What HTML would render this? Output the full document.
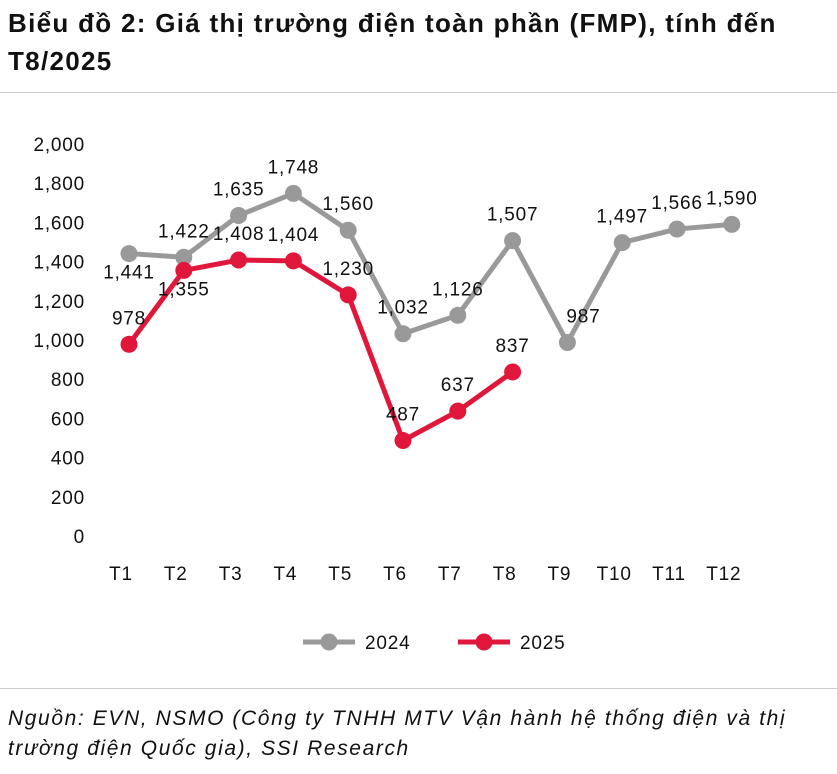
<!DOCTYPE html>
<html><head><meta charset="utf-8"><style>
body{margin:0;width:837px;height:774px;background:#fff;font-family:"Liberation Sans","DejaVu Sans",sans-serif;overflow:hidden;position:relative}
.title{position:absolute;left:8px;top:4px;font-size:26px;letter-spacing:1.3px;font-weight:bold;line-height:38px;color:#111}
.rule{position:absolute;left:0;width:837px;height:1px;background:#ccc}
.src{position:absolute;left:8px;top:704px;font-size:21px;letter-spacing:1.6px;font-style:italic;line-height:30px;color:#111}
svg{position:absolute;left:0;top:0}
svg text{letter-spacing:0.8px}
</style></head><body>
<div class="title">Biểu đồ 2: Giá thị trường điện toàn phần (FMP), tính đến<br>T8/2025</div>
<div class="rule" style="top:92px"></div>
<div class="rule" style="top:688px"></div>
<div class="src">Nguồn: EVN, NSMO (Công ty TNHH MTV Vận hành hệ thống điện và thị<br>trường điện Quốc gia), SSI Research</div>
<svg id="c" width="837" height="690"></svg>
<script>
const categories=["T1","T2","T3","T4","T5","T6","T7","T8","T9","T10","T11","T12"];
const s2024=[1441,1422,1635,1748,1560,1032,1126,1507,987,1497,1566,1590];
const s2025=[978,1355,1408,1404,1230,487,637,837];
const yTicks=[0,200,400,600,800,1000,1200,1400,1600,1800,2000];
const pos2024=["below","above","above","above","above","above","above","above","right","above","above","above"];
const pos2025=["above","below","above","above","above","above","above","above"];
const svg=document.getElementById('c');const NS="http://www.w3.org/2000/svg";
const x=i=>129+i*54.8;const y=v=>536-v*0.196;
function mk(t,a){const e=document.createElementNS(NS,t);for(const k in a)e.setAttribute(k,a[k]);svg.appendChild(e);return e;}
const fmt=v=>v.toLocaleString('en-US');
yTicks.forEach(v=>{const t=mk('text',{x:85,y:y(v)+7,'text-anchor':'end','font-size':19,fill:'#111'});t.textContent=fmt(v);

});
categories.forEach((c,i)=>{const t=mk('text',{x:x(i)-8,y:580,'text-anchor':'middle','font-size':19,fill:'#111'});t.textContent=c;

});
function series(d,col,pos,name){
const p=mk('polyline',{points:d.map((v,i)=>x(i)+','+y(v)).join(' '),fill:'none',stroke:col,'stroke-width':5,'stroke-linejoin':'round'});


d.forEach((v,i)=>{const c=mk('circle',{cx:x(i),cy:y(v),r:8.5,fill:col});


let tx=x(i),ty=y(v)-20;
if(pos[i]=='below')ty=y(v)+25;
if(pos[i]=='right'){tx=x(i)+16;ty=y(v)-20;}
const t=mk('text',{x:tx,y:ty,'text-anchor':'middle','font-size':19,fill:'#111'});t.textContent=fmt(v);

});}
series(s2024,'#999',pos2024,'series-2024');
series(s2025,'#e0173a',pos2025,'series-2025');
function leg(x0,col,lab,name){const l=mk('line',{x1:x0,y1:642,x2:x0+52,y2:642,stroke:col,'stroke-width':5});


mk('circle',{cx:x0+26,cy:642,r:8.5,fill:col});
const t=mk('text',{x:x0+62,y:649,'font-size':19,fill:'#111'});t.textContent=lab;

}
leg(303,'#999','2024','legend-2024');leg(458,'#e0173a','2025','legend-2025');
</script>
</body></html>
